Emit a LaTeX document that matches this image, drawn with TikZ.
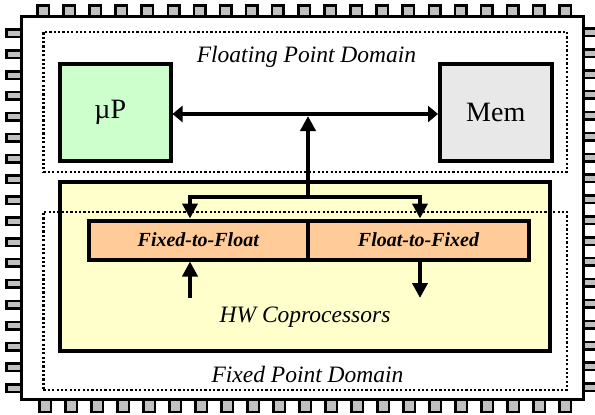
\documentclass[tikz,border=0pt]{standalone}
\usepackage{fontspec}
\setmainfont{Liberation Serif}[
  UprightFont=*,
  BoldFont=* Bold,
  ItalicFont=* Italic,
  BoldItalicFont=* Bold Italic]
\usetikzlibrary{arrows.meta}

\definecolor{pingray}{HTML}{C0C0C0}
\definecolor{cpugreen}{HTML}{CCFFCC}
\definecolor{memgray}{HTML}{E8E8E8}
\definecolor{hwyellow}{HTML}{FFFFCC}
\definecolor{convorange}{HTML}{FFCC99}

\tikzset{
  pinbox/.style={draw=black, fill=pingray, line width=2.5pt},
  chipbody/.style={draw=black, fill=white, line width=3pt},
  domainbox/.style={draw=black, line width=2.2pt, line cap=butt,
                 dash pattern=on 2.2pt off 2.15pt, inner sep=0pt},
  unitbox/.style={draw=black, line width=4pt, inner sep=0pt,
               font=\rmfamily\fontsize{28}{32}\selectfont},
  convbox/.style={draw=black, fill=convorange, line width=4pt, inner sep=0pt,
               minimum height=39pt,
               font=\rmfamily\fontsize{20}{24}\selectfont\bfseries\itshape},
  domlabel/.style={anchor=base, inner sep=0pt,
                  font=\rmfamily\fontsize{23.5}{28}\selectfont\itshape},
  busline/.style={line width=4pt, draw=black},
  vtip/.style={-{Triangle[length=15pt,width=15pt]}},
  htip/.style={{Triangle[length=10pt,width=16pt]}-{Triangle[length=10pt,width=16pt]}}
}

\begin{document}
\begin{tikzpicture}[x=1pt, y=-1pt]
  \useasboundingbox (0,0) rectangle (595,415);
  \clip (0,0) rectangle (595,415);

  % package pins
  \foreach \i in {0,...,20} {
    \draw[pinbox] ({37.25+26.1*\i},5.25) rectangle ++(11.5,12);
    \draw[pinbox] ({39.25+26*\i},398) rectangle ++(11.5,13.75);
  }
  \foreach \i in {0,...,17} {
    \draw[pinbox] (6.25,{29.55+20.88*\i}) rectangle ++(15,7.5);
    \draw[pinbox] (583,{28.55+20.88*\i}) rectangle ++(15,7.5);
  }

  % chip body
  \draw[chipbody] (21.5,16.7) rectangle (583.3,399.5);

  % floating point domain
  \node[domainbox, minimum width=523.5pt, minimum height=140pt]
    (floatdom) at (305.2,101.9) {};
  \node[domlabel] (floatlbl) at (306.5,62) {Floating Point Domain};

  % processor and memory
  \node[unitbox, fill=cpugreen, minimum width=110.5pt, minimum height=97pt]
    (mup) at (115.25,112.5) {µP\hspace*{10pt}};
  \node[unitbox, fill=memgray, minimum width=111.5pt, minimum height=97pt]
    (mem) at (495.75,112.5) {Mem};

  % hardware coprocessor block
  \node[draw=black, fill=hwyellow, line width=4pt, inner sep=0pt,
        minimum width=490pt, minimum height=169pt]
    (hw) at (304.5,266) {};

  % fixed point domain
  \node[domainbox, minimum width=523.5pt, minimum height=178.3pt]
    (fixdom) at (305.2,300.85) {};
  \node[domlabel] (hwlbl) at (305,322) {HW Coprocessors};
  \node[domlabel] (fixlbl) at (307.5,382) {Fixed Point Domain};

  % converters
  \node[convbox, minimum width=219.5pt] (f2fl) at (198.25,240) {Fixed-to-Float};
  \node[convbox, minimum width=221pt]   (fl2fx) at (418.5,240) {Float-to-Fixed};

  % bus between processor and memory
  \coordinate (bustop) at (308,114);
  \coordinate (busfork) at (308,197);
  \coordinate (inx) at (190,0);
  \coordinate (outx) at (420,0);
  \coordinate (fixin) at (190,298);
  \coordinate (fixout) at (420,298);

  \draw[busline, htip] (mup.east |- bustop) -- (mem.west |- bustop);
  \draw[busline, vtip, shorten >=2pt] (busfork) -- (bustop);
  \draw[busline, vtip] (busfork) -| (f2fl.north -| inx);
  \draw[busline, vtip] (busfork) -| (fl2fx.north -| outx);

  % fixed point side connections
  \draw[busline, vtip] (fixin) -- (fixin |- f2fl.south);
  \draw[busline, vtip] (fixout |- fl2fx.south) -- (fixout);
\end{tikzpicture}
\end{document}
